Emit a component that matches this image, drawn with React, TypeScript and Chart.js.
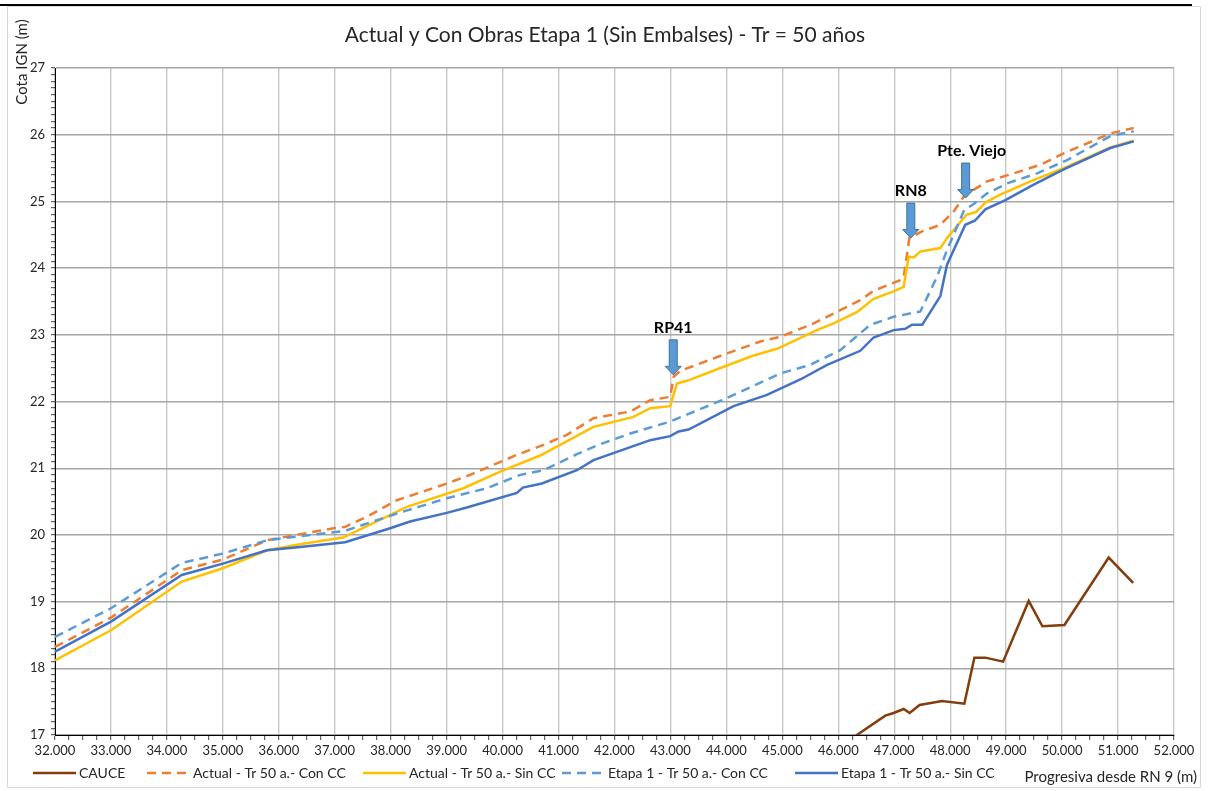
import React, { useEffect, useRef } from 'react';
import { Chart, registerables } from 'chart.js';

Chart.register(...registerables);

const TITLE = 'Actual y Con Obras Etapa 1 (Sin Embalses) - Tr = 50 años';
const Y_TITLE = 'Cota IGN (m)';
const X_TITLE = 'Progresiva desde RN 9 (m)';

const SERIES_NAMES = [
  'CAUCE',
  'Actual - Tr 50 a.- Con CC',
  'Actual - Tr 50 a.- Sin CC',
  'Etapa 1 - Tr 50 a.- Con CC',
  'Etapa 1 - Tr 50 a.- Sin CC',
];

// CAUCE (cauce / river bed)
const cauceX = [46000, 46840, 46989, 47168, 47275, 47454, 47854, 48253, 48432, 48629, 48945, 49403, 49648, 50042, 50833, 51270];
const cauceY = [16.81, 17.29, 17.33, 17.39, 17.33, 17.45, 17.51, 17.47, 18.16, 18.16, 18.10, 19.01, 18.63, 18.65, 19.66, 19.28];

// Actual - Tr 50 a.- Con CC
const actConX = [32000, 33000, 34265, 35000, 35790, 36380, 36980, 37185, 37570, 38110, 39003, 39420, 39838, 40255, 40731, 41149, 41625, 42281, 42639, 42996, 43056, 43175, 44010, 44606, 44963, 45560, 46036, 46393, 46631, 47108, 47168, 47270, 47496, 47824, 48062, 48241, 48320, 48659, 49135, 49612, 50029, 50863, 51280];
const actConY = [18.32, 18.76, 19.47, 19.63, 19.92, 20.01, 20.10, 20.12, 20.27, 20.52, 20.77, 20.90, 21.05, 21.20, 21.35, 21.50, 21.75, 21.85, 22.02, 22.07, 22.37, 22.46, 22.72, 22.90, 22.97, 23.17, 23.37, 23.52, 23.66, 23.82, 23.86, 24.45, 24.55, 24.65, 24.85, 25.07, 25.12, 25.30, 25.42, 25.55, 25.72, 26.02, 26.10];

// Actual - Tr 50 a.- Sin CC
const actSinX = [32000, 33000, 34265, 35000, 35790, 36380, 37150, 38290, 39300, 39957, 40672, 41625, 42340, 42639, 42996, 43116, 43295, 44010, 44487, 44904, 45619, 45917, 46333, 46631, 46989, 47168, 47258, 47348, 47467, 47824, 47943, 48290, 48460, 48640, 48897, 49433, 50029, 50863, 51280];
const actSinY = [18.12, 18.57, 19.30, 19.50, 19.77, 19.86, 19.96, 20.42, 20.70, 20.95, 21.19, 21.62, 21.77, 21.90, 21.93, 22.27, 22.31, 22.54, 22.69, 22.79, 23.07, 23.17, 23.34, 23.54, 23.65, 23.72, 24.17, 24.16, 24.25, 24.30, 24.45, 24.80, 24.84, 24.99, 25.10, 25.30, 25.50, 25.81, 25.91];

// Etapa 1 - Tr 50 a.- Con CC
const etaConX = [32000, 33000, 34265, 35000, 35790, 36980, 37185, 38110, 39003, 39718, 40315, 40731, 41328, 41714, 42281, 42996, 43920, 44963, 45500, 46036, 46572, 46989, 47467, 47764, 47943, 48250, 48420, 48659, 49016, 49552, 50089, 50863, 51280];
const etaConY = [18.47, 18.90, 19.58, 19.72, 19.92, 20.04, 20.06, 20.32, 20.55, 20.70, 20.90, 20.97, 21.21, 21.35, 21.52, 21.70, 22.02, 22.42, 22.55, 22.77, 23.15, 23.27, 23.35, 23.87, 24.27, 24.87, 24.96, 25.12, 25.27, 25.42, 25.62, 25.98, 26.05];

// Etapa 1 - Tr 50 a.- Sin CC
const etaSinX = [32000, 33000, 34265, 35000, 35790, 36380, 37185, 37990, 38347, 39003, 39360, 40255, 40362, 40702, 41328, 41625, 42639, 42996, 43145, 43324, 44128, 44725, 45321, 45800, 46393, 46631, 46989, 47198, 47318, 47500, 47824, 47943, 48270, 48440, 48629, 48986, 49492, 50029, 50863, 51280];
const etaSinY = [18.25, 18.70, 19.40, 19.57, 19.77, 19.82, 19.89, 20.10, 20.20, 20.33, 20.41, 20.63, 20.71, 20.77, 20.97, 21.12, 21.42, 21.48, 21.55, 21.58, 21.93, 22.10, 22.33, 22.55, 22.76, 22.96, 23.07, 23.09, 23.15, 23.15, 23.58, 24.05, 24.65, 24.71, 24.88, 25.02, 25.25, 25.48, 25.80, 25.90];

// Arrow annotations (label, tip position in data units)
const NOTE_LABELS = ['RP41', 'RN8', 'Pte. Viejo'];
const NOTE_X = [43050, 47296, 48276];
const NOTE_Y = [22.40, 24.45, 25.05];

const COLORS = ['#843C0C', '#ED7D31', '#FFC000', '#5B9BD5', '#4472C4'];
const DASHED = [false, true, false, true, false];
const FONT = "Lato, 'Open Sans', 'DejaVu Sans', sans-serif";

const toPts = (xs: number[], ys: number[]) => xs.map((x, i) => ({ x, y: ys[i] }));

const isInt = (v: number) => Math.abs(v - Math.round(v)) < 1e-6;

const decorPlugin = {
  id: 'decor',
  beforeDraw(chart: any) {
    const { ctx, width, height } = chart;
    ctx.save();
    ctx.fillStyle = '#ffffff';
    ctx.fillRect(0, 0, width, height);
    ctx.strokeStyle = '#D9D9D9';
    ctx.lineWidth = 1;
    ctx.strokeRect(7.5, 6.5, 1193, 781);
    ctx.strokeStyle = '#000000';
    ctx.lineWidth = 2;
    ctx.beginPath();
    ctx.moveTo(0, 5);
    ctx.lineTo(1192, 5);
    ctx.stroke();
    ctx.restore();
  },
  afterDatasetsDraw(chart: any) {
    const { ctx, scales } = chart;
    ctx.save();
    NOTE_LABELS.forEach((label, i) => {
      const tx = scales.x.getPixelForValue(NOTE_X[i]);
      const ty = scales.y.getPixelForValue(NOTE_Y[i]);
      const top = ty - 35;
      const headTop = ty - 8.5;
      const sw = 4;
      const hw = 8;
      ctx.beginPath();
      ctx.moveTo(tx - sw, top);
      ctx.lineTo(tx + sw, top);
      ctx.lineTo(tx + sw, headTop);
      ctx.lineTo(tx + hw, headTop);
      ctx.lineTo(tx, ty);
      ctx.lineTo(tx - hw, headTop);
      ctx.lineTo(tx - sw, headTop);
      ctx.closePath();
      ctx.fillStyle = '#5B9BD5';
      ctx.fill();
      ctx.strokeStyle = '#41719C';
      ctx.lineWidth = 1;
      ctx.stroke();
      ctx.fillStyle = '#000000';
      ctx.font = `bold 16px ${FONT}`;
      ctx.textAlign = 'center';
      ctx.textBaseline = 'middle';
      const dx = label.length > 5 ? 6 : 0;
      ctx.fillText(label, tx + dx, top - 12);
    });
    ctx.restore();
  },
  afterDraw(chart: any) {
    const { ctx } = chart;
    ctx.save();
    // main title
    ctx.fillStyle = '#262626';
    ctx.font = `21px ${FONT}`;
    ctx.textAlign = 'center';
    ctx.textBaseline = 'middle';
    ctx.fillText(TITLE, 605, 35);
    // y title (top-left, rotated)
    ctx.save();
    ctx.translate(22, 62);
    ctx.rotate(-Math.PI / 2);
    ctx.font = `15px ${FONT}`;
    ctx.fillText(Y_TITLE, 0, 0);
    ctx.restore();
    // x title (bottom-right)
    ctx.font = `15px ${FONT}`;
    ctx.textAlign = 'right';
    ctx.fillText(X_TITLE, 1197, 777);
    // legend
    const starts = [33, 147, 363, 562, 795];
    ctx.textAlign = 'left';
    ctx.font = `14px ${FONT}`;
    SERIES_NAMES.forEach((name, i) => {
      const x0 = starts[i];
      ctx.strokeStyle = COLORS[i];
      ctx.lineWidth = 2.5;
      ctx.setLineDash(DASHED[i] ? [9, 6] : []);
      ctx.beginPath();
      ctx.moveTo(x0, 773);
      ctx.lineTo(x0 + 43, 773);
      ctx.stroke();
      ctx.setLineDash([]);
      ctx.fillStyle = '#262626';
      ctx.fillText(name, x0 + 46, 773);
    });
    ctx.restore();
  },
};

export default function App() {
  const ref = useRef<HTMLCanvasElement | null>(null);

  useEffect(() => {
    if (!ref.current) return;
    const seriesX = [cauceX, actConX, actSinX, etaConX, etaSinX];
    const seriesY = [cauceY, actConY, actSinY, etaConY, etaSinY];
    const datasets = SERIES_NAMES.map((name, i) => ({
      label: name,
      data: toPts(seriesX[i], seriesY[i]),
      borderColor: COLORS[i],
      backgroundColor: COLORS[i],
      borderWidth: 2.5,
      borderDash: DASHED[i] ? [9, 6] : [],
      pointRadius: 0,
      tension: 0,
      fill: false,
      order: 5 - i,
    }));

    const chart = new Chart(ref.current, {
      type: 'line',
      data: { datasets },
      plugins: [decorPlugin],
      options: {
        responsive: false,
        animation: false,
        devicePixelRatio: 1,
        layout: { padding: { left: 15, right: 35, top: 68, bottom: 26 } },
        plugins: {
          legend: { display: false },
          title: { display: false },
          tooltip: { enabled: false },
        },
        scales: {
          x: {
            type: 'linear',
            min: 32000,
            max: 52000,
            afterFit: (s: any) => { s.height = 30; },
            ticks: {
              stepSize: 250,
              autoSkip: false,
              maxRotation: 0,
              minRotation: 0,
              maxTicksLimit: 1000,
              padding: 3,
              color: '#262626',
              font: { family: FONT, size: 13 },
              callback: (v: any) => (Number(v) % 1000 === 0 ? `${Number(v) / 1000}.000` : ''),
            },
            grid: {
              color: (c: any) => (c.tick && Number(c.tick.value) % 1000 === 0 ? '#C8C8C8' : 'rgba(0,0,0,0)'),
              lineWidth: 1.4,
              drawTicks: true,
              tickLength: 5,
              tickColor: '#404040',
              tickWidth: 1,
            },
            border: { display: true, color: '#000000', width: 1 },
          },
          y: {
            type: 'linear',
            min: 17,
            max: 27,
            afterFit: (s: any) => { s.width = 40; },
            ticks: {
              stepSize: 0.1,
              autoSkip: false,
              maxTicksLimit: 1000,
              padding: 6,
              color: '#262626',
              font: { family: FONT, size: 13 },
              callback: (v: any) => (isInt(Number(v)) ? String(Math.round(Number(v))) : ''),
            },
            grid: {
              color: (c: any) => (c.tick && isInt(Number(c.tick.value)) ? '#A6A6A6' : 'rgba(0,0,0,0)'),
              lineWidth: 1.4,
              drawTicks: true,
              tickLength: 4,
              tickColor: '#404040',
              tickWidth: 1,
            },
            border: { display: true, color: '#000000', width: 1 },
          },
        },
      },
    } as any);

    return () => chart.destroy();
  }, []);

  return (
    <canvas
      ref={ref}
      width={1209}
      height={791}
      style={{ position: 'fixed', top: 0, left: 0, width: 1209, height: 791, display: 'block' }}
    />
  );
}
